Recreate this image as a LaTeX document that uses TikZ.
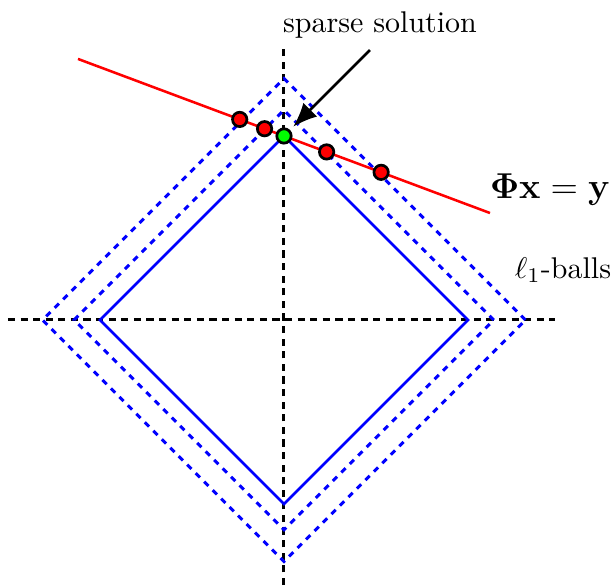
\documentclass[tikz,border=0pt]{standalone}
\usepackage{amsmath,amssymb}
\usepackage{bm}
\usepackage{xcolor}
\usetikzlibrary{calc,arrows.meta}

\begin{document}
\begin{tikzpicture}[
    ball/.style={blue,line width=0.85pt},
    axis/.style={dash pattern=on 2.4pt off 1.8pt,line width=1pt},
    dot/.style={circle,draw=black,line width=0.9pt,inner sep=0pt,minimum size=4.8pt}]
    \useasboundingbox (-3.329,-3.107) rectangle (3.892,3.751);
    \def\R{2.157}
    \def\m{0.374}
    \draw[axis] (-3.236,0) -- (3.177,0);
    \draw[axis] (0,-3.107) -- (0,3.189);
    \draw[ball] (\R,0) -- (0,\R) -- (-\R,0) -- (0,-\R) -- cycle;
    \foreach \r in {2.46,2.83}
        \draw[ball,line width=1pt,dash pattern=on 2pt off 2pt] (\r,0) -- (0,\r) -- (-\r,0) -- (0,-\r) -- cycle;
    \draw[red,line width=0.85pt] (-2.415,{\R+2.415*\m}) -- (2.415,{\R-2.415*\m});
    \foreach \r/\s in {2.87/a,2.47/b} {
        \pgfmathsetmacro\xl{-(\r-\R)/(1+\m)}
        \pgfmathsetmacro\xr{(\r-\R)/(1-\m)}
        \node[dot,fill=red] (l\s) at (\xl,{\R-\m*\xl}) {};
        \node[dot,fill=red] (r\s) at (\xr,{\R-\m*\xr}) {};
    }
    \node[dot,fill=green] (sparse) at (0,\R) {};
    \node (sol) at (1.125,3.458) {sparse solution};
    \coordinate (tail) at (1.008,3.165);
    \draw[line width=0.85pt,-{Latex[length=8pt,width=6.5pt]},shorten >=1.5pt] (tail) -- (sparse);
    \node[font=\large] (eq) at (3.118,1.524) {$\bm{\Phi}\mathbf{x}=\mathbf{y}$};
    \node (balls) at (3.271,0.586) {$\ell_1$-balls};
\end{tikzpicture}
\end{document}
